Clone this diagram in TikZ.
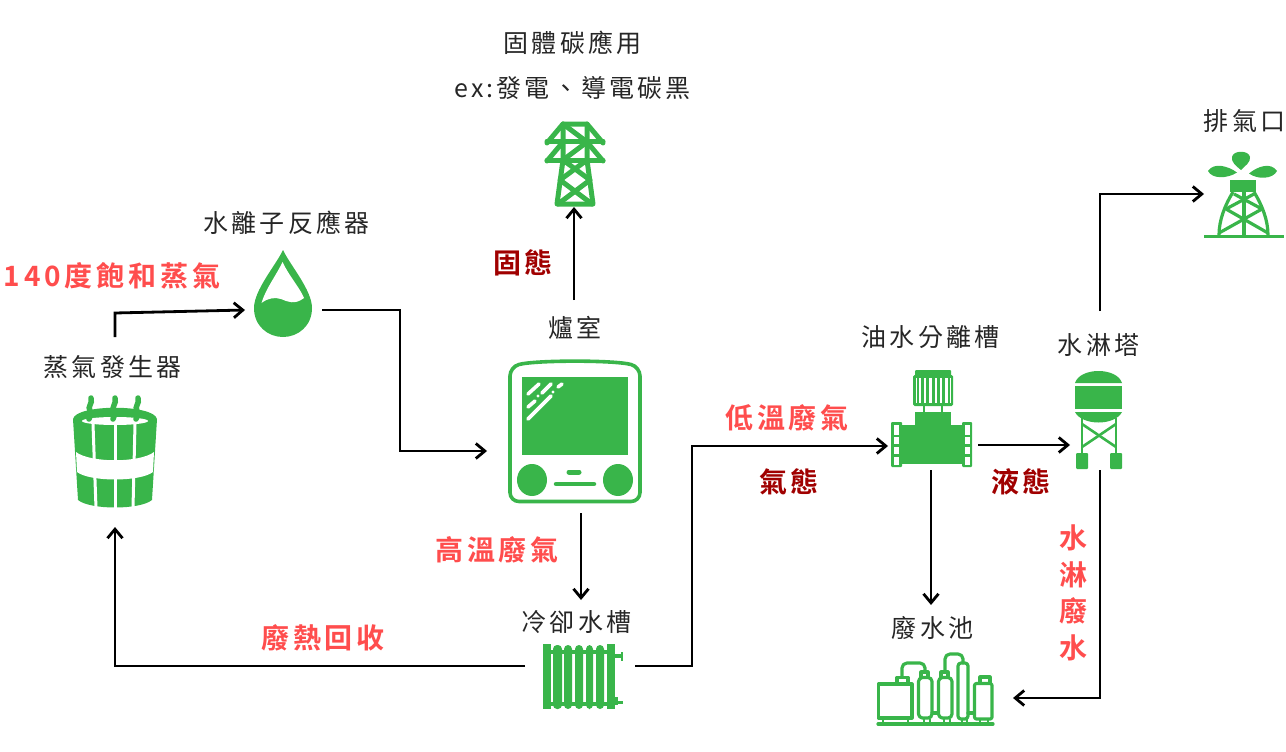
\documentclass[tikz,border=0pt]{standalone}
\usepackage{fontspec}
\usetikzlibrary{arrows.meta,calc}
\newfontfamily\cjk[LetterSpace=12.5]{Noto Sans CJK TC}
\newfontfamily\cjkb[LetterSpace=13.5]{Noto Sans CJK TC Bold}
\definecolor{gr}{HTML}{39B54A}
\definecolor{redl}{HTML}{FF4D4D}
\definecolor{redd}{HTML}{A00000}
\tikzset{
  lab/.style={inner sep=0pt,font=\fontsize{25}{30}\selectfont\cjk,text=black!85},
  hot/.style={inner sep=0pt,font=\fontsize{28}{36.6}\selectfont\cjkb,text=redl},
  dark/.style={inner sep=0pt,font=\fontsize{28}{36.6}\selectfont\cjkb,text=redd},
  box/.style={inner sep=0pt,outer sep=0pt,rectangle},
  conn/.style={draw=black,line width=2.8pt,-{Straight Barb[length=9pt,width=15pt,line width=2.8pt]},line join=miter},
  gs/.style={draw=gr,line width=3pt,line cap=round,line join=round,fill=none},
  wl/.style={draw=white,line cap=round}
}
\begin{document}
\begin{tikzpicture}[x=1pt,y=-1pt]
\useasboundingbox (0,0) rectangle (1286,752);
% anchor boxes (invisible)
\node[box,minimum width=84pt,minimum height=190pt] (boiler) at (115,432) {};
\node[box,minimum width=77pt,minimum height=70pt] (drop) at (283.5,310) {};
\node[box,minimum width=174pt,minimum height=213pt] (furnace) at (574,406.5) {};
\node[box,minimum width=60pt,minimum height=94pt] (pylon) at (574,160) {};
\node[box,minimum width=110pt,minimum height=132pt] (cooler) at (580,666) {};
\node[box,minimum width=90pt,minimum height=50pt] (sep) at (933,445) {};
\node[box,minimum width=60pt,minimum height=50pt] (tower) at (1100,445) {};
\node[box,minimum width=120pt,minimum height=186pt] (pool) at (953,698) {};
\node[box,minimum width=80pt,minimum height=60pt] (vent) at (1244,194) {};
\coordinate (c1) at (115,313);
\coordinate (c2) at (400,310);
\coordinate (c3) at (692,446);
% connectors
\draw[conn] (115,337) -- (c1) -- (drop.west);
\draw[conn] (drop.east) -- (c2) -- (c2 |- 0,451) -- ([yshift=-44.5pt]furnace.west);
\draw[conn] (furnace.north) -- (pylon.south);
\draw[conn] ([xshift=7pt]furnace.south) -- ([xshift=1pt]cooler.north);
\draw[conn] (cooler.west) -- (boiler.south |- cooler.west) -- (boiler.south);
\draw[conn] (cooler.east) -- (c3 |- cooler.east) -- (c3) -- ([yshift=-1pt]sep.west);
\draw[conn] (sep.east) -- (tower.west);
\draw[conn] ([xshift=-2pt]sep.south) -- ([xshift=-22pt]pool.north);
\draw[conn] (tower.south) -- (tower.south |- pool.east) -- (pool.east);
\draw[conn] (tower.north |- 0,311) -- (tower.north |- vent.west) -- (vent.west);

% steam generator
\fill[gr] (73,419) .. controls (76,404) and (154,404) .. (157,419) -- (152,500) .. controls (140,510) and (90,510) .. (78,500) -- cycle;
\fill[white] (115,421) ellipse [x radius=33,y radius=4];
\foreach \xa/\xb in {93/96,115/115,135/133}{\draw[white,line width=3pt] (\xa,424) -- (\xb,508);}
\fill[white] (76,452) .. controls (90,463) and (140,463) .. (154,452) -- (153,472) .. controls (140,482) and (90,482) .. (77,472) -- cycle;
\foreach \x in {90,114,137}{\draw[gr,line width=5.5pt,line cap=round] (\x+1,398) .. controls (\x+3,404) and (\x-3,406) .. (\x,411) .. controls (\x+2,415) and (\x-1,417) .. (\x-1,419);}

% drop
\fill[gr] (283,250) .. controls (290,265) and (312,290) .. (312,308) .. controls (312,326) and (298,337) .. (283,337) .. controls (268,337) and (254,326) .. (254,308) .. controls (254,290) and (276,265) .. (283,250) -- cycle;
\fill[white] (282.5,262) .. controls (276,276) and (266,288) .. (261.5,303) .. controls (268,298) and (275,297) .. (281,299) .. controls (288,302) and (295,305) .. (304,298) .. controls (300,288) and (289,276) .. (282.5,262) -- cycle;

% pylon
\begin{scope}[gs,line width=5pt]
\draw (547,143) -- (563,124) -- (587,124) -- (603,143);
\draw (547,141) -- (603,141);
\draw (547,161) -- (563,142);
\draw (603,161) -- (587,142);
\draw (547,160) -- (603,160);
\draw (563,124) -- (563,160) -- (557,204) -- (593,204) -- (587,160) -- (587,124);
\draw (563,124) -- (587,142) -- (563,160);
\draw (563,160) -- (590,180) -- (558,204);
\draw (587,160) -- (560,180) -- (592,204);
\end{scope}

% furnace
\draw[gr,line width=3.6pt,rounded corners=9pt] (510,367) .. controls (535,360) and (615,360) .. (640,367) -- (640,501.5) -- (510,501.5) -- cycle;
\fill[gr] (522,377) rectangle (628,455);
\begin{scope}[wl,line width=3.6pt]
\draw (528,394) -- (539,384); \draw (542,393) -- (551,384); \draw (558,387) -- (562,384);
\draw (528,407) -- (535,401); \draw (528,419) -- (551,396);
\end{scope}
\fill[white] (538,396) circle (1.6); \fill[white] (553,392) circle (1.6);
\fill[gr] (532,480) ellipse [x radius=15,y radius=16];
\fill[gr] (618,480) ellipse [x radius=15,y radius=16];
\draw[gr,line width=5pt,line cap=round] (569,472) -- (579,472);
\draw[gr,line width=4.5pt,line cap=round] (556,484) -- (594,484);

% separator
\fill[gr,rounded corners=1pt] (915,370) rectangle (951,377);
\fill[gr,rounded corners=1.5pt] (913,375) rectangle (953,406);
\foreach \x in {920,925,930.5,936,941,946.5}{\fill[white] (\x-1.2,378) rectangle (\x+1.2,403);}
\fill[white] (915.5,378) rectangle (917,403); \fill[white] (949.5,378) rectangle (951,403);
\fill[gr] (923,405) rectangle (925,413); \fill[gr] (941,405) rectangle (943,413);
\fill[gr] (915,412) rectangle (951,426);
\fill[gr] (900,425) rectangle (964,464);
\fill[gr,rounded corners=1pt] (891,422) rectangle (902,467);
\fill[gr,rounded corners=1pt] (962,422) rectangle (972,467);
\foreach \x in {893.5,964.5}{\foreach \a/\b in {425/434.5,436.5/443.5,447/454,457/465}{\fill[white] (\x,\a) rectangle (\x+5.5,\b);}}

% water tower
\fill[gr] (1075,383) .. controls (1080,367) and (1117,367) .. (1122,383) -- cycle;
\fill[gr] (1075,386) rectangle (1122,409);
\fill[gr] (1075,412) .. controls (1082,426) and (1115,426) .. (1122,412) -- cycle;
\begin{scope}[draw=gr,line width=2.6pt]
\draw (1082,418) -- (1082,455); \draw (1116,418) -- (1116,455);
\draw (1082,424) -- (1116,447); \draw (1116,424) -- (1082,447);
\end{scope}
\fill[gr,rounded corners=1pt] (1076,453) rectangle (1088,469);
\fill[gr,rounded corners=1pt] (1110,453) rectangle (1122,469);

% waste pool
\begin{scope}[gs,line width=3.2pt]
\draw (878,724) -- (993,724);
\draw (878.5,684) rectangle (912,718);
\draw (897,684) -- (897,677.5) -- (908,677.5) -- (908,684);
\draw[rounded corners=5pt] (902,677) -- (902,663) -- (925,663) -- (925,672);
\draw[rounded corners=4pt] (918.5,718) rectangle (932,677.5);
\draw (921,677) -- (921,672) -- (928,672) -- (928,677);
\draw[rounded corners=4pt] (938.5,718) rectangle (952,677.5);
\draw (941,677) -- (941,672) -- (948,672) -- (948,677);
\draw[rounded corners=5pt] (945,672) -- (945,654) -- (963,654) -- (963,663);
\draw[rounded corners=3pt] (958,719) rectangle (968,663);
\draw[rounded corners=2pt] (974.5,719) rectangle (992,683.5);
\draw (980,683) -- (980,677) -- (990,677) -- (990,683);
\draw (932,713) -- (938,713); \draw (968,713) -- (974,713);
\foreach \x in {883,908,924,930,944,950,962,967,980,988}{\draw[line width=2pt] (\x,719) -- (\x,723);}
\end{scope}

% radiator
\fill[gr] (543,644) rectangle (551,709);
\fill[gr] (607,644) rectangle (615,709);
\fill[gr] (551,650) rectangle (607,653.5);
\fill[gr] (551,702) rectangle (607,705.5);
\foreach \a/\b in {553/562,564/572,575/583,586/593,596/604}{\fill[gr,rounded corners=4pt] (\a,645) rectangle (\b,709);}
\fill[gr] (615,654) rectangle (621,658);
\fill[gr] (620.5,652) rectangle (622.5,661);
\fill[gr] (615,697) rectangle (618,705);
\fill[gr] (615,701) rectangle (623,704);

% vent
\fill[gr] (1204,234.5) rectangle (1284,238);
\fill[gr] (1230,180) rectangle (1256,192);
\begin{scope}[draw=gr,line width=3.2pt]
\draw (1233,192) .. controls (1225,205) and (1219,220) .. (1219,235);
\draw (1254,192) .. controls (1262,205) and (1268,220) .. (1268,235);
\draw (1244,192) -- (1244,235);
\draw (1234,194) -- (1262,209) ;
\draw (1254,194) -- (1226,209);
\draw (1226,209) -- (1268,233);
\draw (1262,209) -- (1219,233);
\end{scope}
\fill[gr] (1241,170) .. controls (1236,166) and (1231,162) .. (1232,157) .. controls (1233,150) and (1249,150) .. (1250,157) .. controls (1251,162) and (1245,166) .. (1241,170) -- cycle;
\fill[gr] (1237,172.5) .. controls (1228,166) and (1214,162) .. (1208,171) .. controls (1212,179) and (1227,179) .. (1237,172.5) -- cycle;
\fill[gr] (1249,173.5) .. controls (1258,166) and (1271,162) .. (1277,171) .. controls (1273,179) and (1258,180) .. (1249,173.5) -- cycle;

% labels
\node[lab] (t1) at (572.5,43) {固體碳應用};
\node[lab] (t2) at (572.5,88) {ex:發電、導電碳黑};
\node[lab] (t3) at (286.5,223) {水離子反應器};
\node[lab] (t4) at (112.5,367) {蒸氣發生器};
\node[lab] (t5) at (575,328) {爐室};
\node[lab] (t6) at (930.5,337) {油水分離槽};
\node[lab] (t7) at (1098.5,345) {水淋塔};
\node[lab] (t8) at (1244.5,121) {排氣口};
\node[lab] (t9) at (576.5,622) {冷卻水槽};
\node[lab] (t10) at (932.5,628) {廢水池};
\node[hot] (h1) at (112,276) {140度飽和蒸氣};
\node[dark] (d1) at (523,263) {固態};
\node[hot] (h2) at (497,550) {高溫廢氣};
\node[hot] (h3) at (323,638) {廢熱回收};
\node[hot] (h4) at (787,418) {低溫廢氣};
\node[dark] (d2) at (789,482) {氣態};
\node[dark] (d3) at (1021,482) {液態};
\node[hot,align=center] (h5) at (1073,593) {水\\淋\\廢\\水};
\end{tikzpicture}
\end{document}
